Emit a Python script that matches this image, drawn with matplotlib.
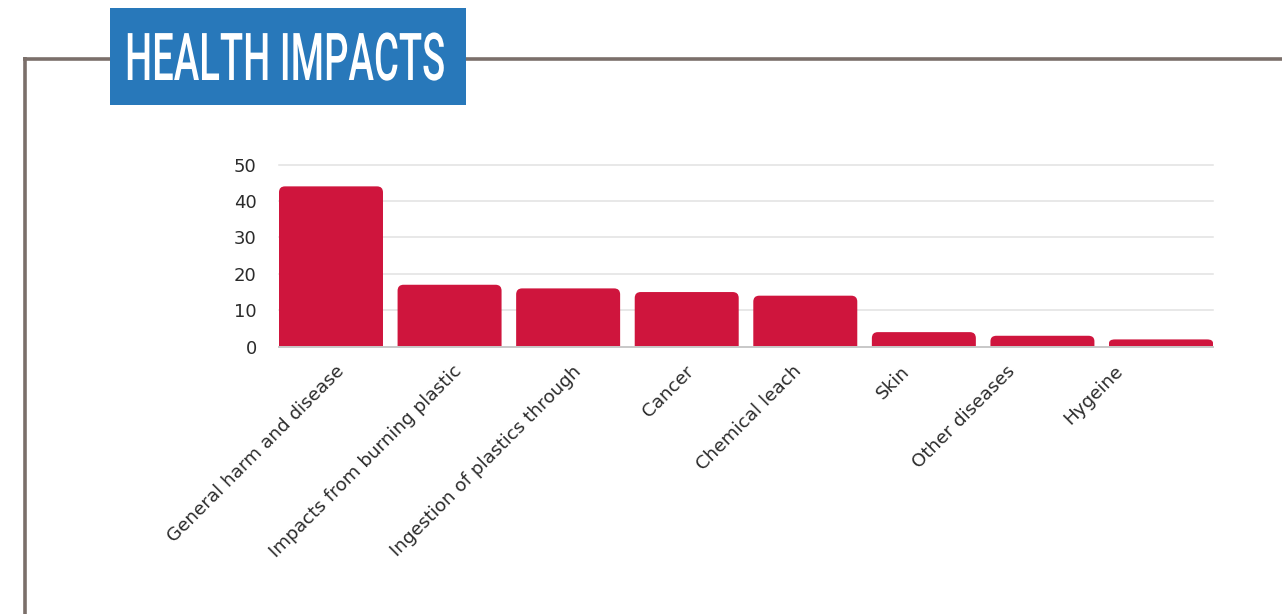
import matplotlib
matplotlib.use("Agg")
import matplotlib.pyplot as plt
from matplotlib.patches import PathPatch, Rectangle
from matplotlib.path import Path
from matplotlib.lines import Line2D
from matplotlib.patheffects import AbstractPathEffect
from matplotlib.transforms import Affine2D

# Data
categories = [
    "General harm and disease",
    "Impacts from burning plastic",
    "Ingestion of plastics through",
    "Cancer",
    "Chemical leach",
    "Skin",
    "Other diseases",
    "Hygeine",
]
values = [44, 17, 16, 15, 14, 4, 3, 2]
y_ticks = [0, 10, 20, 30, 40, 50]
title = "HEALTH IMPACTS"

BAR_COLOR = "#CF153D"
FRAME_COLOR = "#7B6F6A"
TITLE_BG = "#2878BA"
TEXT_COLOR = "#2b2b2b"
FONT = ["DejaVu Sans"]


class HorizontalSqueeze(AbstractPathEffect):
    """Narrow the glyph outlines horizontally around a fixed x (display px)."""

    def __init__(self, sx, cx):
        super().__init__()
        self.sx = sx
        self.cx = cx

    def draw_path(self, renderer, gc, tpath, affine, rgbFace=None):
        squeeze = Affine2D().translate(-self.cx, 0).scale(self.sx, 1).translate(self.cx, 0)
        renderer.draw_path(gc, tpath, affine + squeeze, rgbFace)


def top_rounded_bar(x0, w, h, rx, ry):
    """Outline of a bar whose two top corners are rounded (data coords)."""
    x1 = x0 + w
    ry = min(ry, h / 2)
    verts = [(x0, 0), (x0, h - ry), (x0, h), (x0 + rx, h),
             (x1 - rx, h), (x1, h), (x1, h - ry), (x1, 0), (x0, 0)]
    codes = [Path.MOVETO, Path.LINETO, Path.CURVE3, Path.CURVE3,
             Path.LINETO, Path.CURVE3, Path.CURVE3, Path.LINETO, Path.CLOSEPOLY]
    return Path(verts, codes)


W, H, DPI = 1282, 614, 100
fig = plt.figure(figsize=(W / DPI, H / DPI), dpi=DPI)
fig.patch.set_facecolor("white")

# Frame: top rule and left rule
fig.add_artist(Line2D([23.2 / W, 1.0], [1 - 58.5 / H, 1 - 58.5 / H],
                      color=FRAME_COLOR, lw=2.6, transform=fig.transFigure,
                      solid_capstyle="butt", zorder=2))
fig.add_artist(Line2D([24.5 / W, 24.5 / W], [1 - 57.2 / H, 0],
                      color=FRAME_COLOR, lw=2.6, transform=fig.transFigure,
                      solid_capstyle="butt", zorder=2))

# Title badge
fig.add_artist(Rectangle((110 / W, 1 - 105 / H), 356 / W, 97 / H,
                         transform=fig.transFigure, facecolor=TITLE_BG,
                         edgecolor="none", zorder=3))
title_cx = 285
title_txt = fig.text(title_cx / W, 1 - 80 / H, title, color="white", fontsize=47.5,
                     fontweight="medium", family=["Roboto", "DejaVu Sans"],
                     ha="center", va="baseline", zorder=4)

# Plot area
left, right = 279, 1213
zero_y, top_y = 346.7, 164.5
ax = fig.add_axes([left / W, 1 - zero_y / H, (right - left) / W, (zero_y - top_y) / H])

n = len(categories)
bar_w = 0.877
xs = list(range(n))
bars = ax.bar(xs, values, width=bar_w, color=BAR_COLOR, zorder=3)
ax.set_xlim(-bar_w / 2, n - 1 + bar_w / 2)
ax.set_ylim(0, 50)

for s in ax.spines.values():
    s.set_visible(False)
ax.set_facecolor("none")

for t in y_ticks[1:]:
    ax.axhline(t, color="#e2e2e2", lw=1.1, zorder=1, clip_on=False)
ax.axhline(0, color="#c8c8c8", lw=1.4, zorder=4, clip_on=False)

ax.set_yticks(y_ticks)
ax.set_yticklabels([str(t) for t in y_ticks], fontsize=13, color=TEXT_COLOR, family=FONT)
ax.tick_params(axis="y", length=0, pad=16)
ax.tick_params(axis="x", length=0, pad=0)
ax.set_xticks(xs)
ax.set_xticklabels([])

# Rotated category labels (horizontal nudge in pixels for each label end)
label_dx = [11, 9, 10, 4, -7, -17, -30, -41]
for x, label, dx in zip(xs, categories, label_dx):
    ax.annotate(label, xy=(x, 0), xycoords="data", xytext=(dx, -22),
                textcoords="offset pixels", rotation=45, rotation_mode="anchor",
                ha="right", va="center", fontsize=13.2, color=TEXT_COLOR,
                family=FONT)

fig.canvas.draw()
renderer = fig.canvas.get_renderer()

# Condense the title to the badge width
tw = title_txt.get_window_extent(renderer).width
title_txt.set_path_effects([HorizontalSqueeze(320 / tw, title_cx)])

# Swap plain bars for top-rounded outlines of the same geometry
px_per_x = (ax.transData.transform((1, 0))[0] - ax.transData.transform((0, 0))[0])
px_per_y = (ax.transData.transform((0, 1))[1] - ax.transData.transform((0, 0))[1])
radius_px = 6
rx, ry = radius_px / px_per_x, radius_px / px_per_y
for b in bars:
    b.set_visible(False)
    ax.add_patch(PathPatch(top_rounded_bar(b.get_x(), b.get_width(), b.get_height(), rx, ry),
                           facecolor=BAR_COLOR, edgecolor="none", zorder=3))

fig.savefig("out.png", dpi=DPI, facecolor="white")
